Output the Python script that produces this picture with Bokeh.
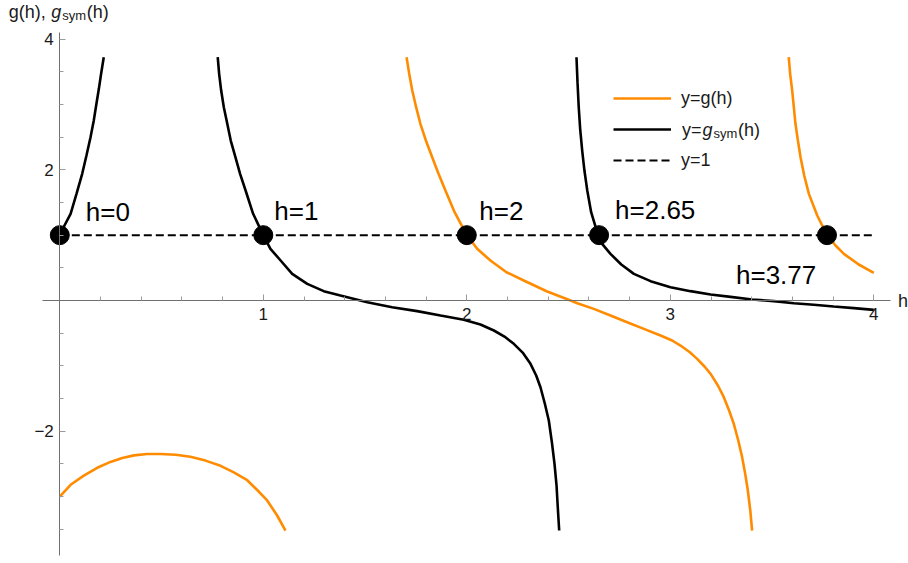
from bokeh.plotting import figure
from bokeh.models import Range1d, FixedTicker, Label, Legend, LegendItem
from bokeh.embed import file_html
from bokeh.resources import INLINE

# ---------------- data ----------------
# g_sym(h): three branches (black)
gsym_h1 = [0.0, 0.023, 0.053, 0.082, 0.110, 0.131, 0.151, 0.167, 0.180, 0.192, 0.203, 0.216]
gsym_y1 = [1.0, 1.148, 1.327, 1.632, 1.939, 2.219, 2.499, 2.754, 3.010, 3.239, 3.469, 3.723]
gsym_h2 = [0.776, 0.783, 0.793, 0.806, 0.823, 0.840, 0.863, 0.886, 0.913, 0.950, 1.0,
           1.035, 1.085, 1.142, 1.216, 1.297, 1.379, 1.511, 1.633, 1.756, 1.871,
           1.985, 2.067, 2.133, 2.185, 2.231, 2.277, 2.313, 2.341, 2.362, 2.383,
           2.403, 2.418, 2.431, 2.441, 2.447, 2.454]
gsym_y2 = [3.723, 3.469, 3.213, 2.958, 2.704, 2.448, 2.193, 1.939, 1.683, 1.327, 1.0,
           0.791, 0.612, 0.408, 0.255, 0.143, 0.077, -0.026, -0.102, -0.163, -0.230,
           -0.296, -0.367, -0.459, -0.551, -0.663, -0.806, -0.969, -1.148, -1.327, -1.572,
           -1.836, -2.168, -2.499, -2.831, -3.163, -3.520]
gsym_h3 = [2.539, 2.544, 2.550, 2.557, 2.567, 2.578, 2.592, 2.611, 2.645, 2.665, 2.706,
           2.759, 2.821, 2.903, 3.001, 3.099, 3.198, 3.296, 3.402, 3.509, 3.607, 3.705,
           3.803, 3.902, 4.0]
gsym_y3 = [3.723, 3.341, 2.958, 2.627, 2.295, 1.989, 1.683, 1.351, 1.0, 0.867, 0.714,
           0.551, 0.408, 0.296, 0.204, 0.143, 0.092, 0.056, 0.015, -0.010, -0.041, -0.066,
           -0.092, -0.117, -0.143]

# g(h): three branches (orange)
g_h1 = [0.0, 0.053, 0.118, 0.184, 0.249, 0.307, 0.364, 0.430, 0.495, 0.569, 0.642,
        0.716, 0.790, 0.855, 0.921, 0.970, 1.019, 1.068, 1.109]
g_y1 = [-3.00, -2.82, -2.68, -2.56, -2.47, -2.41, -2.37, -2.35, -2.35, -2.36, -2.39,
        -2.45, -2.53, -2.63, -2.75, -2.90, -3.06, -3.29, -3.52]
g_h2 = [1.704, 1.717, 1.732, 1.751, 1.772, 1.799, 1.830, 1.861, 1.895, 1.940, 2.0,
        2.051, 2.116, 2.195, 2.280, 2.395, 2.510, 2.543, 2.624, 2.706, 2.788, 2.870,
        2.952, 3.009, 3.050, 3.096, 3.132, 3.168, 3.198, 3.234, 3.263, 3.289, 3.312,
        3.334, 3.353, 3.368, 3.381, 3.393, 3.402]
g_y2 = [3.723, 3.469, 3.213, 2.958, 2.704, 2.448, 2.193, 1.939, 1.683, 1.351, 1.0,
        0.791, 0.612, 0.433, 0.306, 0.138, 0.0, -0.041, -0.128, -0.230, -0.332, -0.434,
        -0.536, -0.612, -0.689, -0.791, -0.893, -1.010, -1.122, -1.301, -1.479, -1.683,
        -1.887, -2.142, -2.397, -2.652, -2.907, -3.213, -3.520]
g_h3 = [3.582, 3.589, 3.599, 3.607, 3.615, 3.627, 3.640, 3.658, 3.681, 3.722, 3.77,
        3.812, 3.853, 3.926, 4.0]
g_y3 = [3.723, 3.469, 3.213, 2.958, 2.704, 2.448, 2.193, 1.913, 1.632, 1.301, 1.0,
        0.842, 0.714, 0.551, 0.423]

# reference line y = 1
ref_h = [0.0, 4.0]
ref_y = [1.0, 1.0]

# intersection points
roots = [0.0, 1.0, 2.0, 2.65, 3.77]
root_y = [1.0, 1.0, 1.0, 1.0, 1.0]

x_ticks = [1, 2, 3, 4]
y_ticks = [-2, 2, 4]

# ---------------- styling ----------------
ORANGE = "#ff8c00"
BLACK = "#000000"
TXT = "#1a1a1a"
FONT = "Liberation Sans"
LW = 2.6

p = figure(width=908, height=563, output_backend="svg", toolbar_location=None,
           x_range=Range1d(-0.2914, 4.1705), y_range=Range1d(-4.0245, 4.5907),
           min_border_left=0, min_border_right=0, min_border_top=0,
           min_border_bottom=0)
p.outline_line_color = None
p.xgrid.grid_line_color = None
p.ygrid.grid_line_color = None
p.background_fill_color = "white"

p.xaxis.fixed_location = 0
p.yaxis.fixed_location = 0
p.xaxis.bounds = (-0.085, 4.082)
p.yaxis.bounds = (-3.902, 4.101)
p.xaxis.ticker = FixedTicker(ticks=x_ticks,
                             minor_ticks=[round(i * 0.2, 1) for i in range(1, 20) if i % 5])
p.yaxis.ticker = FixedTicker(ticks=y_ticks,
                             minor_ticks=[k * 0.5 for k in range(-7, 8) if k % 4])
p.yaxis.major_label_overrides = {t: (str(t) if t >= 0 else "\u2212" + str(-t)) for t in y_ticks}

for ax in (p.xaxis[0], p.yaxis[0]):
    ax.axis_line_color = "#707070"
    ax.axis_line_width = 1
    ax.major_tick_line_color = "#9a9a9a"
    ax.minor_tick_line_color = "#9a9a9a"
    ax.major_tick_in = 6
    ax.major_tick_out = 0
    ax.minor_tick_in = 4
    ax.minor_tick_out = 0
    ax.major_label_text_font = FONT
    ax.major_label_text_font_size = "17px"
    ax.major_label_text_color = TXT
p.xaxis.major_label_standoff = 7
p.yaxis.major_label_standoff = 6

# curves
r_g = None
for hh, yy in ((g_h1, g_y1), (g_h2, g_y2), (g_h3, g_y3)):
    r = p.line(hh, yy, line_color=ORANGE, line_width=LW)
    r_g = r_g or r
r_s = None
for hh, yy in ((gsym_h1, gsym_y1), (gsym_h2, gsym_y2), (gsym_h3, gsym_y3)):
    r = p.line(hh, yy, line_color=BLACK, line_width=LW)
    r_s = r_s or r
r_ref = p.line(ref_h, ref_y, line_color=BLACK, line_width=2, line_dash="8 4")

p.scatter(roots, root_y, size=19, fill_color=BLACK, line_color=BLACK)

# point annotations (offsets in screen px, text vertically centred)
offsets = [(26, 23), (11, 24), (12.5, 24), (16, 25.5), (-91, -40)]
for r, (dx, dy) in zip(roots, offsets):
    p.add_layout(Label(x=r, y=1.0, text=f"h={r:g}", x_offset=dx, y_offset=dy,
                       text_font=FONT, text_font_size="26px", text_color=BLACK,
                       text_baseline="middle"))

# legend
legend = Legend(items=[LegendItem(label="y=g(h)", renderers=[r_g]),
                       LegendItem(label=" ", renderers=[r_s]),
                       LegendItem(label="y=1", renderers=[r_ref])],
                location=(613, 392), glyph_width=58, glyph_height=22,
                label_height=22, spacing=9, padding=0, margin=0,
                label_standoff=10, label_text_font=FONT,
                label_text_font_size="18px", label_text_color=TXT,
                border_line_alpha=0, background_fill_alpha=0)
p.add_layout(legend)

def rich(x, y, parts):
    for txt, dx, dy, fs, style in parts:
        p.add_layout(Label(x=x, y=y, text=txt, x_offset=dx, y_offset=dy,
                           text_font=FONT, text_font_size=fs, text_font_style=style,
                           text_color=TXT, text_baseline="middle"))

# legend entry y = g_sym(h)
rich(3.0575, 2.612, [("y=", 0, 0, "18px", "normal"),
                     ("g", 20.5, 0, "18px", "italic"),
                     ("sym", 31.5, -3.8, "13px", "normal"),
                     ("(h)", 56, 0, "18px", "normal")])

# axis labels
rich(-0.2506, 4.418, [("g(h), ", 0, 0, "18px", "normal"),
                      ("g", 42.5, 0, "18px", "italic"),
                      ("sym", 53.4, -3.8, "13px", "normal"),
                      ("(h)", 78, 0, "18px", "normal")])
p.add_layout(Label(x=4.119, y=-0.005, text="h", text_font=FONT,
                   text_font_size="18px", text_color=TXT,
                   text_baseline="middle"))

open("out.html", "w").write(file_html(p, INLINE))
